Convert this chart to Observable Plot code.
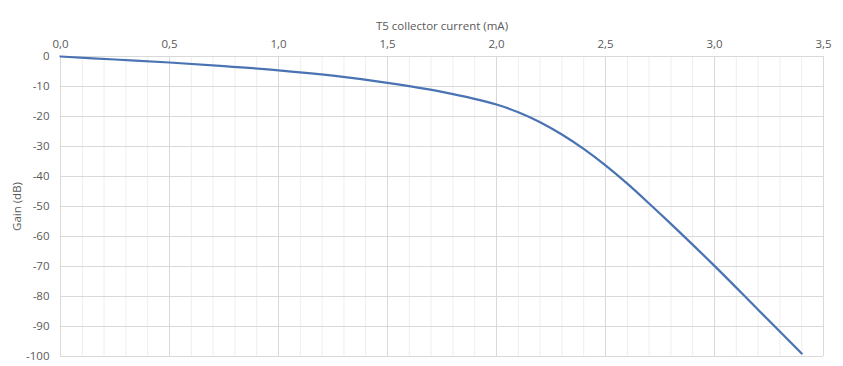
<!DOCTYPE html>
<html>
<head>
<meta charset="utf-8">
<script src="https://cdn.jsdelivr.net/npm/d3@7"></script>
<script src="https://cdn.jsdelivr.net/npm/@observablehq/plot@0.6"></script>
<style>
  html, body { margin: 0; padding: 0; background: #fff; }
  svg { font-family: "Open Sans", sans-serif; }
</style>
</head>
<body>
<div id="chart"></div>
<script>
const current = [0, 0.25, 0.5, 0.75, 1.0, 1.25, 1.5, 1.75, 2.0, 2.1, 2.2, 2.3, 2.4, 2.5, 2.6, 2.7, 2.8, 3.0, 3.2, 3.4];
const gain = [0, -1, -2, -3.2, -4.6, -6.4, -8.8, -11.8, -16, -18.6, -21.9, -26.0, -30.8, -36.3, -42.4, -49.0, -55.8, -69.8, -84.4, -99];
const xTicks = [0, 0.5, 1.0, 1.5, 2.0, 2.5, 3.0, 3.5];
const xMinor = [0.1, 0.2, 0.3, 0.4, 0.6, 0.7, 0.8, 0.9, 1.1, 1.2, 1.3, 1.4, 1.6, 1.7, 1.8, 1.9, 2.1, 2.2, 2.3, 2.4, 2.6, 2.7, 2.8, 2.9, 3.1, 3.2, 3.3, 3.4];
const yTicks = [0, -10, -20, -30, -40, -50, -60, -70, -80, -90, -100];

const data = current.map((x, i) => ({x, y: gain[i]}));

const chart = Plot.plot({
  width: 843,
  height: 366,
  marginLeft: 60,
  marginRight: 20,
  marginTop: 56,
  marginBottom: 10,
  style: {fontSize: "11.5px", color: "#595959", background: "#fff"},
  x: {domain: [0, 3.5]},
  y: {domain: [-100, 0]},
  marks: [
    Plot.ruleX(xMinor, {stroke: "#eeeeee", strokeWidth: 1}),
    Plot.ruleX(xTicks, {stroke: "#d9d9d9", strokeWidth: 1}),
    Plot.ruleY(yTicks, {stroke: "#d9d9d9", strokeWidth: 1}),
    Plot.axisX({
      anchor: "top", ticks: xTicks, tickSize: 0, tickPadding: 9,
      tickFormat: d => d.toFixed(1).replace(".", ","),
      label: "T5 collector current (mA)", labelAnchor: "center", labelArrow: "none", labelOffset: 35,
      fill: "#595959"
    }),
    Plot.axisY({
      anchor: "left", ticks: yTicks, tickSize: 0, tickPadding: 11,
      tickFormat: d => String(d),
      label: "Gain (dB)", labelAnchor: "center", labelArrow: "none", labelOffset: 48,
      fill: "#595959"
    }),
    Plot.line(data, {x: "x", y: "y", stroke: "#4a73b3", strokeWidth: 2.25, curve: "catmull-rom"})
  ]
});
document.getElementById("chart").appendChild(chart);
</script>
</body>
</html>
